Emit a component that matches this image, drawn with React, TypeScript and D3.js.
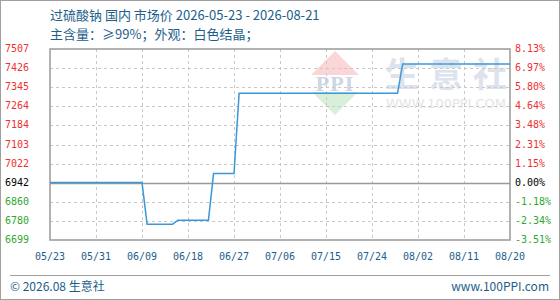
import React from "react";
import * as d3 from "d3";

// Sodium persulfate domestic market price, daily series
const TITLE = "过硫酸钠 国内 市场价 2026-05-23 - 2026-08-21";
const SUBTITLE = "主含量：≥99%；外观：白色结晶；";
const FOOTER_LEFT = "© 2026.08 生意社";
const FOOTER_RIGHT = "www.100PPI.com";

const START_DATE = "2026-05-23";
const END_DATE = "2026-08-21";
const BASE_PRICE = 6942;

const PRICE_DATES = [
  "2026-05-23", "2026-06-10", "2026-06-11", "2026-06-16", "2026-06-17",
  "2026-06-23", "2026-06-24", "2026-06-28", "2026-06-29", "2026-07-30",
  "2026-07-31", "2026-08-21",
];
const PRICE_VALUES = [
  6942, 6942, 6766, 6766, 6783,
  6783, 6980, 6980, 7320, 7320,
  7444, 7444,
];

const Y_MIN = 6699;
const Y_MAX = 7507;
const Y_LABELS = ["6699", "6780", "6860", "6942", "7022", "7103", "7184", "7264", "7345", "7426", "7507"];
const PCT_LABELS = ["-3.51%", "-2.34%", "-1.18%", "0.00%", "1.15%", "2.31%", "3.48%", "4.64%", "5.80%", "6.97%", "8.13%"];
const X_TICK_LABELS = ["05/23", "05/31", "06/09", "06/18", "06/27", "07/06", "07/15", "07/24", "08/02", "08/11", "08/20"];
const X_TICK_STEP_DAYS = 9;

const W = 560;
const H = 300;
const M = { left: 50, right: 510, top: 49, bottom: 240 };

const BLUE_TEXT = "#1d5e8c";
const RED = "#f03030";
const GREEN = "#30a830";
const MONO = "'DejaVu Sans Mono', 'Liberation Mono', monospace";
const CJK = "'Noto Sans CJK SC', 'Noto Sans', sans-serif";

const parse = d3.timeParse("%Y-%m-%d");

export default function App() {
  const start = parse(START_DATE)!;
  const end = parse(END_DATE)!;
  const x = d3.scaleTime().domain([start, end]).range([M.left, M.right]);
  const y = d3.scaleLinear().domain([Y_MIN, Y_MAX]).range([M.bottom, M.top]);

  const series = PRICE_DATES.map((d, i) => ({ date: parse(d)!, value: PRICE_VALUES[i] }));
  const line = d3
    .line<{ date: Date; value: number }>()
    .x((d) => x(d.date))
    .y((d) => y(d.value));

  const yTicks = Y_LABELS.map((label, i) => ({
    v: Y_MIN + (i * (Y_MAX - Y_MIN)) / (Y_LABELS.length - 1),
    label,
    pct: PCT_LABELS[i],
  }));
  const xTicks = X_TICK_LABELS.map((label, i) => ({
    date: d3.timeDay.offset(start, i * X_TICK_STEP_DAYS),
    label,
  }));

  const colorFor = (label: string) => {
    const n = +label;
    if (n > BASE_PRICE) return RED;
    if (n < BASE_PRICE) return GREEN;
    return "#000";
  };

  const cx = 335;
  return (
    <svg
      width={W}
      height={H}
      style={{ position: "absolute", left: 0, top: 0, background: "#fff" }}
    >
      <defs>
        <clipPath id="plot-clip">
          <rect x={M.left} y={M.top} width={M.right - M.left} height={M.bottom - M.top} />
        </clipPath>
      </defs>
      <rect x={0.5} y={0.5} width={W - 1} height={H - 1} fill="#fff" stroke="#a0a0a0" />

      {/* title */}
      <text x={M.left} y={20} fontFamily={CJK} fontSize={13} fill={BLUE_TEXT}>
        {TITLE}
      </text>
      <text x={M.left} y={39} fontFamily={CJK} fontSize={13} fill={BLUE_TEXT}>
        {SUBTITLE}
      </text>

      {/* watermark, kept inside the plot */}
      <g clipPath="url(#plot-clip)">
        <polygon points={`${cx},51 ${cx - 24},75 ${cx + 24},75`} fill="#fbd6d6" />
        <polygon points={`${cx - 23},92 ${cx + 23},92 ${cx},115`} fill="#d8f0da" />
        <text
          x={cx}
          y={91}
          textAnchor="middle"
          fontFamily="'Liberation Serif', serif"
          fontWeight="bold"
          fontSize={22}
          fill="#cdd6e5"
          letterSpacing={1}
        >
          PPI
        </text>
        <text x={385} y={87} fontFamily={CJK} fontSize={34} fontWeight="bold" fill="#dde3ed" letterSpacing={10}>
          生意社
        </text>
        <text
          x={386}
          y={108}
          fontFamily="'DejaVu Sans', sans-serif"
          fontSize={12}
          fill="#e4e4e4"
          textLength={120}
          lengthAdjust="spacingAndGlyphs"
        >
          WWW.100PPI.COM
        </text>
      </g>

      {/* horizontal grid */}
      {yTicks.slice(1, -1).map((t) => (
        <line
          key={"gy" + t.label}
          x1={M.left}
          x2={M.right}
          y1={Math.round(y(t.v)) + 0.5}
          y2={Math.round(y(t.v)) + 0.5}
          stroke="#c8c8c8"
          strokeDasharray="3,3"
        />
      ))}
      {/* vertical grid */}
      {xTicks.slice(1, -1).map((t) => (
        <line
          key={"gx" + t.label}
          x1={Math.round(x(t.date)) + 0.5}
          x2={Math.round(x(t.date)) + 0.5}
          y1={M.top}
          y2={M.bottom}
          stroke="#c8c8c8"
          strokeDasharray="3,3"
        />
      ))}

      {/* base price line */}
      <line
        x1={M.left}
        x2={M.right}
        y1={Math.round(y(BASE_PRICE)) + 0.5}
        y2={Math.round(y(BASE_PRICE)) + 0.5}
        stroke="#999"
        strokeWidth={1.5}
      />

      {/* plot frame */}
      <rect
        x={M.left}
        y={M.top}
        width={M.right - M.left}
        height={M.bottom - M.top}
        fill="none"
        stroke="#999"
        strokeWidth={1.5}
      />

      {/* price line */}
      <path d={line(series) || ""} fill="none" stroke="#3b98d8" strokeWidth={1.5} />

      {/* left axis labels */}
      {yTicks.map((t) => (
        <text
          key={"yl" + t.label}
          x={5}
          y={y(t.v)}
          dominantBaseline="middle"
          fontFamily={MONO}
          fontSize={10}
          fill={colorFor(t.label)}
        >
          {t.label}
        </text>
      ))}
      {/* right axis labels */}
      {yTicks.map((t) => (
        <text
          key={"yr" + t.pct}
          x={515}
          y={y(t.v)}
          dominantBaseline="middle"
          fontFamily={MONO}
          fontSize={10}
          fill={colorFor(t.label)}
        >
          {t.pct}
        </text>
      ))}

      {/* bottom axis labels */}
      {xTicks.map((t) => (
        <text
          key={"xl" + t.label}
          x={x(t.date)}
          y={257}
          textAnchor="middle"
          dominantBaseline="middle"
          fontFamily={MONO}
          fontSize={10}
          fill={BLUE_TEXT}
        >
          {t.label}
        </text>
      ))}

      {/* footer */}
      <line x1={10} x2={550} y1={275.5} y2={275.5} stroke="#a0a0a0" />
      <text x={10} y={291} fontFamily={CJK} fontSize={12} fill={BLUE_TEXT}>
        {FOOTER_LEFT}
      </text>
      <text x={549} y={291} textAnchor="end" fontFamily={CJK} fontSize={12} fill={BLUE_TEXT}>
        {FOOTER_RIGHT}
      </text>
    </svg>
  );
}
